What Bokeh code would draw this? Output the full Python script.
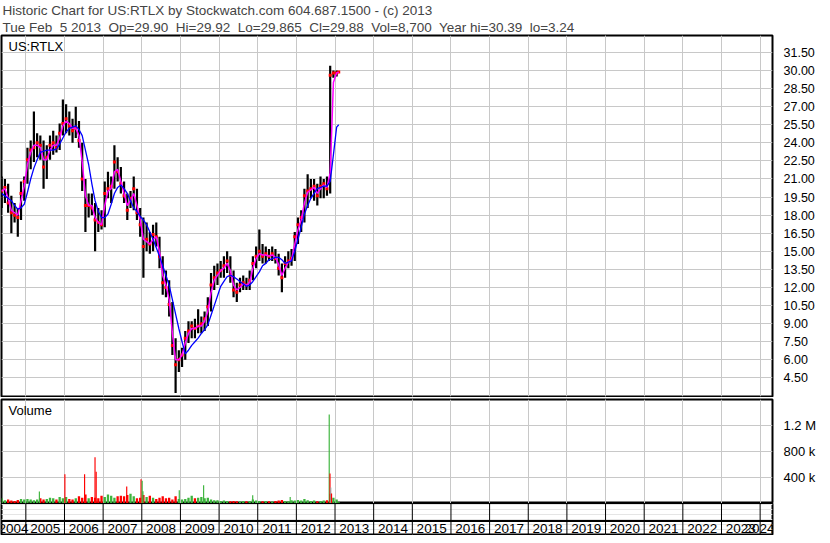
from bokeh.plotting import figure
from bokeh.models import (Range1d, FixedTicker, Grid, Label, Title, Span,
                          NumeralTickFormatter, ColumnDataSource)
from bokeh.layouts import column
from bokeh.embed import file_html
from bokeh.resources import INLINE
from bokeh.core.properties import value

FONT = "Liberation Sans"
NB = "\u00a0 "   # a double space that SVG text will not collapse

# ---------------- header texts ----------------
symbol = "US:RTLX"
title_line1 = "Historic Chart for US:RTLX by Stockwatch.com 604.687.1500 - (c) 2013"
header_fields = ["Tue Feb" + NB + "5 2013", "Op=29.90", "Hi=29.92", "Lo=29.865",
                 "Cl=29.88", "Vol=8,700", "Year hi=30.39", "lo=3.24"]
title_line2 = NB.join(header_fields)

# ---------------- data (monthly, May 2004 .. Feb 2013) ----------------
first_year, first_month = 2004, 5
last_date = 2013 + 35 / 365.0          # Feb 5 2013

price_hi = [21.2, 21.0, 20.6, 19.6, 19.0, 18.6, 20.8, 21.2,
            23.6, 24.2, 26.6, 24.8, 24.6, 24.2, 23.8, 24.6, 25.0, 24.6, 25.6, 27.6,
            27.2, 26.6, 26.0, 27.0, 25.8, 24.0, 21.0, 19.8, 19.8, 19.0, 18.6, 18.4,
            20.8, 21.6, 21.2, 23.8, 22.8, 22.0, 20.8, 19.8, 20.0, 21.2, 20.2, 18.6,
            17.8, 17.4, 16.6, 17.2, 17.4, 16.2, 14.6, 13.4, 12.6, 10.8, 7.8, 6.8,
            7.0, 8.4, 9.2, 9.2, 9.4, 10.2, 9.6, 10.0, 11.2, 13.2, 13.8, 14.0,
            14.2, 14.6, 15.0, 14.6, 13.4, 12.4, 12.8, 13.0, 12.8, 13.4, 14.6, 15.4,
            16.8, 15.6, 15.4, 15.2, 15.4, 15.2, 14.8, 14.0, 14.6, 15.0, 15.2, 16.6,
            17.8, 18.4, 20.2, 21.4, 21.0, 21.0, 20.6, 21.2, 21.0, 21.2, 30.39, 30.0,
            30.0, 29.92]
price_lo = [18.6, 19.0, 18.2, 16.5, 17.4, 16.2, 17.6, 19.2,
            20.6, 21.8, 22.4, 22.8, 22.6, 20.2, 21.0, 22.6, 23.0, 23.2, 23.4, 24.6,
            24.8, 24.6, 24.0, 24.4, 23.6, 20.0, 16.6, 17.8, 18.0, 15.0, 16.6, 16.8,
            17.0, 19.4, 19.0, 20.2, 20.8, 19.8, 19.0, 17.6, 18.6, 18.4, 17.6, 16.2,
            12.8, 15.0, 14.8, 15.0, 15.4, 13.6, 11.4, 11.2, 9.6, 6.4, 3.24, 5.0,
            5.4, 6.0, 7.4, 7.8, 7.8, 8.2, 8.2, 8.4, 8.8, 10.0, 11.8, 12.2,
            12.8, 12.8, 13.2, 12.4, 11.2, 10.8, 11.6, 11.8, 11.8, 11.8, 12.6, 13.6,
            14.2, 14.0, 14.0, 14.2, 14.2, 14.0, 13.0, 11.6, 12.8, 13.6, 13.8, 14.2,
            15.6, 16.6, 17.4, 18.6, 19.4, 19.2, 18.8, 19.4, 19.4, 19.6, 19.8, 29.4,
            29.5, 29.865]
price_cl = [20.0, 20.3, 19.0, 18.2, 18.0, 17.8, 19.8, 20.8,
            22.6, 23.4, 23.6, 24.0, 23.8, 22.0, 22.8, 23.8, 24.0, 23.6, 24.8, 25.6,
            26.0, 25.4, 25.0, 25.2, 24.2, 21.0, 18.8, 18.8, 18.6, 17.6, 17.4, 17.2,
            19.8, 20.2, 20.4, 22.4, 21.6, 20.6, 19.6, 18.4, 19.4, 20.2, 18.2, 17.2,
            15.4, 16.0, 15.6, 16.4, 16.2, 14.6, 12.4, 12.0, 10.6, 7.2, 5.6, 6.0,
            6.4, 7.8, 8.4, 8.8, 8.6, 8.8, 9.0, 9.4, 10.4, 12.2, 12.8, 13.2,
            13.4, 13.8, 14.2, 13.0, 11.8, 11.6, 12.2, 12.4, 12.2, 12.6, 14.0, 14.6,
            15.0, 14.6, 14.8, 14.6, 14.8, 14.4, 13.6, 12.8, 14.0, 14.2, 14.4, 16.2,
            17.2, 17.8, 19.6, 20.0, 20.2, 20.4, 19.6, 20.4, 20.6, 20.2, 29.6, 29.8,
            29.8, 29.88]
ma_short = [20.0, 20.2, 19.4, 18.4, 18.2, 18.0, 19.2, 20.4,
            22.2, 23.2, 23.8, 23.8, 23.6, 22.6, 22.6, 23.4, 23.8, 23.8, 24.4, 25.4,
            25.8, 25.6, 25.2, 25.2, 24.6, 22.4, 19.6, 18.8, 18.8, 17.8, 17.4, 17.2,
            18.8, 20.0, 20.2, 21.6, 21.8, 20.8, 19.8, 18.8, 19.2, 19.8, 18.8, 17.6,
            16.0, 15.8, 15.6, 16.0, 16.2, 15.0, 13.0, 12.2, 11.0, 8.2, 6.0, 6.0,
            6.4, 7.4, 8.2, 8.6, 8.6, 8.8, 8.8, 9.2, 10.0, 11.6, 12.6, 13.0,
            13.4, 13.6, 14.0, 13.4, 12.2, 11.8, 12.0, 12.3, 12.2, 12.4, 13.6, 14.4,
            14.8, 14.7, 14.7, 14.6, 14.7, 14.5, 13.9, 13.0, 13.6, 14.1, 14.3, 15.6,
            16.8, 17.6, 19.0, 19.9, 20.1, 20.3, 19.8, 20.2, 20.5, 20.3, 21.5, 29.0,
            29.8, 29.85]
ma_long = [19.8, 19.6, 19.4, 19.2, 18.8, 18.5, 18.6, 18.9,
           19.9, 21.0, 21.9, 22.6, 23.2, 23.3, 23.4, 23.4, 23.4, 23.5, 23.9, 24.4,
           24.9, 25.2, 25.3, 25.4, 25.1, 24.6, 23.4, 22.2, 20.6, 19.2, 18.3, 17.8,
           17.8, 18.1, 18.9, 19.8, 20.3, 20.5, 20.2, 19.8, 19.2, 18.6, 18.3, 17.9,
           17.6, 17.2, 16.6, 16.0, 15.3, 14.6, 13.8, 13.0, 12.2, 11.0, 9.8, 8.6,
           7.5, 6.5, 6.8, 7.2, 7.5, 7.8, 8.2, 8.5, 8.9, 9.7, 10.5, 11.3,
           12.1, 12.5, 12.9, 13.0, 12.9, 12.7, 12.5, 12.3, 12.1, 12.2, 12.5, 12.9,
           13.3, 13.8, 14.0, 14.3, 14.4, 14.5, 14.5, 14.3, 14.0, 14.1, 14.2, 15.0,
           16.0, 17.0, 18.1, 18.8, 19.4, 19.8, 20.2, 20.3, 20.4, 20.4, 20.8, 23.0,
           25.3, 25.5]
# typical daily volume per month (thousands of shares)
vol_base = [80, 50, 60, 45, 40, 55, 70, 60,
            70, 60, 50, 60, 80, 60, 70, 90, 80, 60, 100, 80,
            100, 70, 60, 80, 110, 90, 140, 80, 100, 90, 80, 120,
            100, 140, 120, 90, 110, 120, 110, 130, 150, 110, 80, 90,
            130, 100, 120, 90, 70, 90, 110, 80, 90, 60, 110, 70,
            60, 70, 90, 120, 80, 90, 100, 80, 90, 60, 50, 50,
            40, 45, 40, 35, 40, 35, 30, 40, 35, 40, 60, 45,
            40, 35, 40, 35, 30, 40, 45, 55, 40, 35, 50, 45,
            55, 45, 70, 50, 40, 45, 35, 40, 45, 50, 150, 90,
            60, 20]
# single-day volume spikes: (decimal year, thousands, colour)
spike_t = [2005.35, 2006.01, 2006.52, 2006.79, 2006.82, 2007.61, 2007.98,
           2008.01, 2008.03, 2008.97, 2009.60, 2010.87, 2011.84,
           2012.85, 2012.87, 2012.89, 2012.91]
spike_vol = [185, 450, 450, 710, 490, 260, 375, 350, 190, 205, 282, 128, 100,
             1370, 460, 245, 155]
spike_kind = ["up", "down", "down", "down", "down", "down", "down",
              "up", "up", "up", "up", "up", "up",
              "up", "down", "flat", "down"]

price_ticks = [4.5, 6.0, 7.5, 9.0, 10.5, 12.0, 13.5, 15.0, 16.5, 18.0, 19.5,
               21.0, 22.5, 24.0, 25.5, 27.0, 28.5, 30.0, 31.5]
vol_ticks = [400000, 800000, 1200000]
vol_tick_labels = ["400 k", "800 k", "1.2 M"]
years = list(range(2004, 2025))

x_start, x_end = 2004.37, 2024.32
price_min, price_max = 2.96, 32.9
vol_max = 1600000

# ---------------- derived ----------------
n = len(price_hi)
t = [first_year + (first_month - 1 + i + 0.5) / 12.0 for i in range(n)]
t[-1] = last_date
vol = [v * 1000 for v in vol_base]
kind_color = {"up": "#3cb43c", "down": "#ff0000", "flat": "#a0a0a0"}
vcol = [kind_color["up"]] + [kind_color["up"] if price_cl[i] >= price_cl[i - 1]
                              else kind_color["down"] for i in range(1, n)]
svol = [v * 1000 for v in spike_vol]
scol = [kind_color[k] for k in spike_kind]

GRID = "#c8c8c8"
FW = 771
RB = 42
xr = Range1d(x_start, x_end)


def base_fig(fh, yr, top, bottom, yaxis=True, fs="12.5px"):
    f = figure(frame_width=FW, frame_height=fh, x_range=xr, y_range=yr,
               output_backend="svg", toolbar_location=None,
               x_axis_location=None, y_axis_location="right" if yaxis else None,
               min_border_left=1, min_border_right=RB,
               min_border_top=top, min_border_bottom=bottom,
               outline_line_color="black", outline_line_width=2,
               background_fill_color="white", border_fill_color="white")
    if yaxis:
        ax = f.yaxis[0]
        ax.axis_line_color = None
        ax.major_tick_line_color = None
        ax.minor_tick_line_color = None
        ax.major_label_text_font = FONT
        ax.major_label_text_font_size = fs
        ax.major_label_text_color = "black"
        ax.major_label_standoff = 5
        f.ygrid.grid_line_color = GRID
        f.add_layout(Grid(dimension=0, ticker=FixedTicker(ticks=years),
                          grid_line_color=GRID))
    return f


# ---------------- price panel ----------------
p1 = base_fig(361, Range1d(price_min, price_max), 0, 1)
p1.yaxis[0].ticker = FixedTicker(ticks=price_ticks)
p1.yaxis[0].formatter = NumeralTickFormatter(format="0.00")
p1.add_layout(Title(text=title_line2, text_font=FONT, text_font_size="13.5px",
                    text_font_style="normal", align="left", offset=1,
                    standoff=1), "above")
p1.add_layout(Title(text=title_line1, text_font=FONT, text_font_size="13.5px",
                    text_font_style="normal", align="left", offset=1,
                    standoff=0), "above")

src = ColumnDataSource(dict(t=t, hi=price_hi, lo=price_lo, cl=price_cl,
                            ma1=ma_short, ma2=ma_long))
p1.segment(x0="t", y0="lo", x1="t", y1="hi", source=src,
           line_color="black", line_width=2.2)
p1.scatter(x="t", y="cl", source=src, marker="square", size=3,
           fill_color="red", line_color=None)
p1.line(x="t", y="ma1", source=src, line_color="#ff00ff", line_width=1.5)
p1.line(x="t", y="ma2", source=src, line_color="#0000ff", line_width=1.3)
p1.add_layout(Label(x=x_start, y=price_max, x_offset=7, y_offset=-3,
                    text=symbol, text_font=FONT, text_font_size="13px",
                    text_baseline="top", text_color="black"))

# ---------------- volume panel ----------------
p2 = base_fig(104, Range1d(0, vol_max), 2, 0, fs="13px")
p2.yaxis[0].ticker = FixedTicker(ticks=vol_ticks)
p2.yaxis[0].major_label_overrides = dict(zip(vol_ticks, vol_tick_labels))
p2.vbar(x=t, top=vol, width=0.06, fill_color=vcol, line_color=None)
p2.vbar(x=spike_t, top=svol, width=0.03, fill_color=scol, line_color=None)
p2.add_layout(Label(x=x_start, y=vol_max, x_offset=7, y_offset=-3,
                    text="Volume", text_font=FONT, text_font_size="13px",
                    text_baseline="top", text_color="black"))

# ---------------- year strip ----------------
p3 = base_fig(31, Range1d(0, 31), 0, 1, yaxis=False)
p3.segment(x0=years, y0=[0] * len(years), x1=years, y1=[31] * len(years),
           line_color="black", line_width=1)
p3.add_layout(Span(location=13.5, dimension="width", line_color="black",
                   line_width=2))
mid_years = years[1:-1]
p3.text(x=[y + 0.5 for y in mid_years], y=[6.5] * len(mid_years),
        text=[str(y) for y in mid_years], text_font=value(FONT),
        text_font_size="13.5px", text_align="center", text_baseline="middle",
        text_color="black")
p3.text(x=[x_start], y=[6.5], text=[str(years[0])], text_font=value(FONT),
        text_font_size="13.5px", text_align="left", text_baseline="middle",
        x_offset=-3, text_color="black")
p3.text(x=[x_end], y=[6.5], text=[str(years[-1])], text_font=value(FONT),
        text_font_size="13.5px", text_align="right", text_baseline="middle",
        x_offset=2, text_color="black")

layout = column(p1, p2, p3, spacing=0)
open("out.html", "w").write(file_html(layout, INLINE))
